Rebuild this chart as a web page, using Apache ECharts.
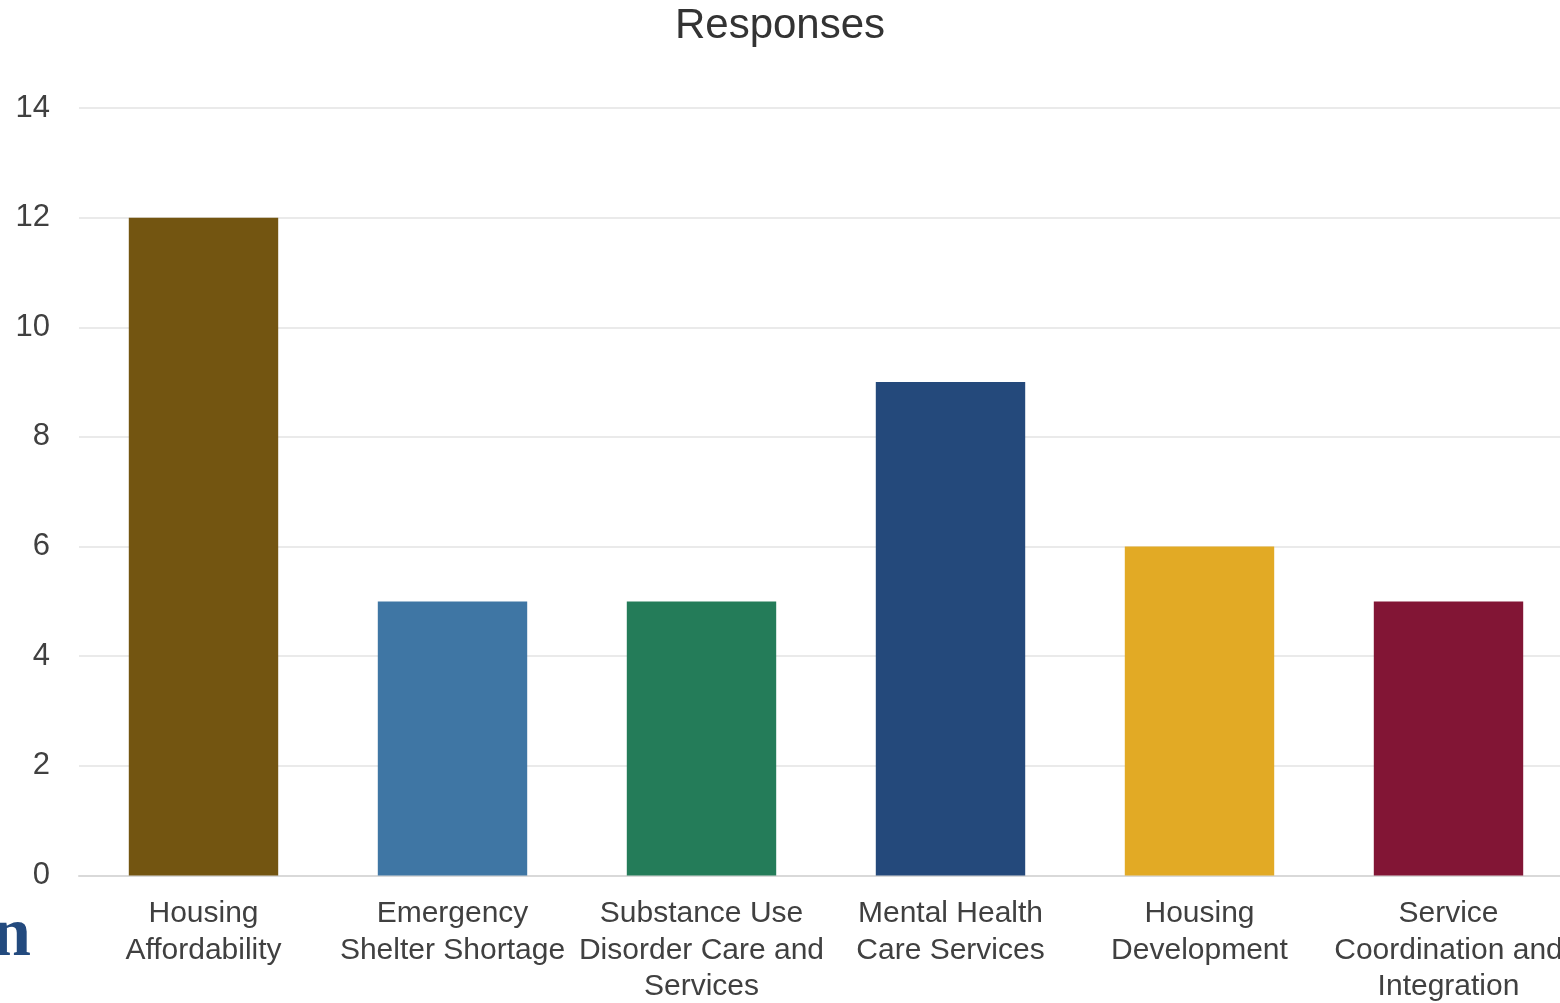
<!DOCTYPE html>
<html>
<head>
<meta charset="utf-8">
<script src="https://cdn.jsdelivr.net/npm/echarts@6/dist/echarts.min.js"></script>
<style>
html,body{margin:0;padding:0;background:#fff;}
#chart{width:1560px;height:1003px;}
</style>
</head>
<body>
<div id="chart"></div>
<script>
const titleText = "Responses";
const categories = ["Housing Affordability", "Emergency Shelter Shortage", "Substance Use Disorder Care and Services", "Mental Health Care Services", "Housing Development", "Service Coordination and Integration"];
const tickLabels = ["Housing\nAffordability", "Emergency\nShelter Shortage", "Substance Use\nDisorder Care and\nServices", "Mental Health\nCare Services", "Housing\nDevelopment", "Service\nCoordination and\nIntegration"];
const values = [12, 5, 5, 9, 6, 5];
const barColors = ["#735511", "#3f76a4", "#247c59", "#24497b", "#e2aa25", "#821535"];
const yMin = 0, yMax = 14, yStep = 2;

const chart = echarts.init(document.getElementById('chart'), null, {renderer: 'canvas'});
const FONT = '"Liberation Sans", Arial, sans-serif';
chart.setOption({
  animation: false,
  backgroundColor: '#ffffff',
  title: {
    text: titleText,
    left: 'center',
    top: 0,
    textStyle: {fontFamily: FONT, fontSize: 42, fontWeight: 'normal', color: '#333333'}
  },
  grid: {left: 79, width: 1494, top: 108, height: 767.5, containLabel: false, outerBoundsMode: 'none'},
  xAxis: {
    type: 'category',
    data: categories,
    axisLine: {show: true, lineStyle: {color: '#d9d9d9', width: 2}},
    axisTick: {show: false},
    axisLabel: {
      interval: 0,
      margin: 20,
      fontFamily: FONT,
      fontSize: 30,
      lineHeight: 36.5,
      color: '#404040',
      align: 'center',
      formatter: function (v, i) { return tickLabels[i]; }
    }
  },
  yAxis: {
    type: 'value',
    min: yMin, max: yMax, interval: yStep,
    axisLine: {show: false},
    axisTick: {show: false},
    splitLine: {lineStyle: {color: '#e3e3e3', width: 1.5}},
    axisLabel: {margin: 29, fontFamily: FONT, fontSize: 31, color: '#404040'}
  },
  series: [{
    type: 'bar',
    data: values.map((v, i) => ({value: v, itemStyle: {color: barColors[i]}})),
    barWidth: '60%'
  }],
  graphic: [{
    type: 'text',
    left: -8,
    top: 902,
    style: {
      text: 'n',
      fontFamily: '"Liberation Serif", "DejaVu Serif", serif',
      fontWeight: 'bold',
      fontSize: 70,
      fill: '#234a7e'
    }
  }]
});
</script>
</body>
</html>
